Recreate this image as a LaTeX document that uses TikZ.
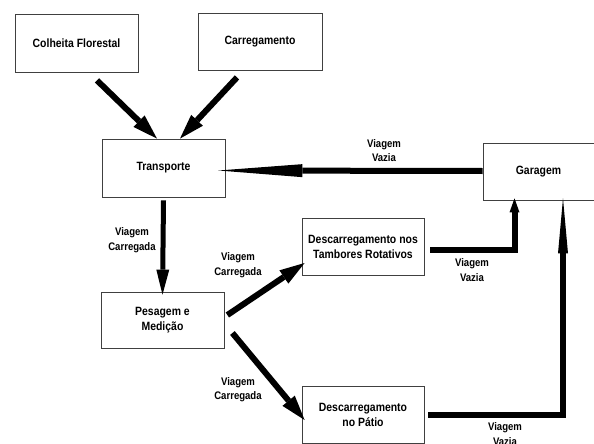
\documentclass[tikz,border=0pt]{standalone}
\usepackage{fontspec}
\setmainfont{Liberation Sans}[FakeStretch=0.87]
\usetikzlibrary{arrows.meta,calc}
\begin{document}
\begin{tikzpicture}[x=1pt,y=-1pt,
  box/.style={draw=black!75,line width=0.8pt,fill=white,inner sep=0pt,align=center,
    font=\fontsize{12}{15}\selectfont\bfseries},
  lbl/.style={inner sep=0pt,align=center,font=\fontsize{11}{14.5}\selectfont\bfseries},
  arr/.style={line width=6pt,line join=miter,-{Triangle[length=25pt,width=16pt,line width=0pt]}}]
\fill[white] (0,0) rectangle (594,444);
\useasboundingbox (0,0) rectangle (594,444);
\clip (0,0) rectangle (594,444);
% boxes
\node[box,minimum width=123pt,minimum height=58pt] (colheita) at (76.5,43) {Colheita Florestal};
\node[box,minimum width=124pt,minimum height=57pt] (carreg) at (260,41.5) {Carregamento};
\node[box,minimum width=123pt,minimum height=58pt] (transp) at (163.5,168) {Transporte};
\node[box,minimum width=111pt,minimum height=57pt] (garagem) at (538.5,171.5) {Garagem};
\node[box,minimum width=122pt,minimum height=57pt] (tamb) at (363,246.5) {Descarregamento nos\\Tambores Rotativos};
\node[box,minimum width=123pt,minimum height=56pt] (pesagem) at (162.5,320) {Pesagem e\\Medição};
\node[box,minimum width=122pt,minimum height=57pt] (patio) at (363,414.5) {Descarregamento\\no Pátio};
% connectors
\draw[arr] ($(colheita.south)+(20.5,8)$) -- ($(transp.north)+(-6.5,0)$);
\draw[arr] ($(carreg.south)+(-23,7)$) -- ($(transp.north)+(16.5,0)$);
\draw[line width=6pt,-{Triangle[length=84pt,width=13pt,line width=0pt]}] ($(garagem.west)+(0,-0.5)$) -- ($(transp.east)+(-7,2.5)$);
\draw[line width=5pt,-{Triangle[length=25pt,width=13pt,line width=0pt]}] ($(transp.south)+(0,3)$) -- ($(pesagem.north)+(0,3)$);
\draw[arr] ($(pesagem.east)+(3,-5)$) -- ($(tamb.west)+(3,16.5)$);
\draw[arr] ($(pesagem.east)+(8,13)$) -- ($(patio.west)+(3,5.5)$);
\draw[line width=6pt,line join=miter,-{Triangle[length=14pt,width=10pt,line width=0pt]}] ($(tamb.east)+(6,3)$) -| ($(garagem.south)+(-24,-2)$);
\draw[line width=6pt,line join=miter,-{Triangle[length=55pt,width=10pt,line width=0pt]}] ($(patio.east)+(4,0)$) -| ($(garagem.south)+(24.5,-2)$);
% labels
\node[lbl] (l1) at (384,150.5) {Viagem\\Vazia};
\node[lbl] (l2) at (132,240) {Viagem\\Carregada};
\node[lbl] (l3) at (238,265) {Viagem\\Carregada};
\node[lbl] (l4) at (238,389.5) {Viagem\\Carregada};
\node[lbl] (l5) at (472,270) {Viagem\\Vazia};
\node[lbl] (l6) at (505,434) {Viagem\\Vazia};
\end{tikzpicture}
\end{document}
